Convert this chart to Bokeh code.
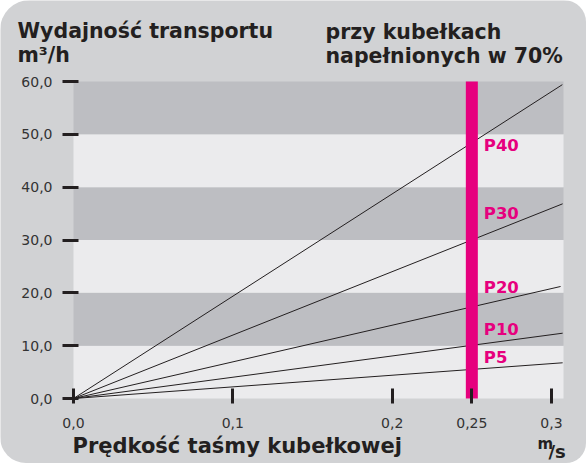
from bokeh.plotting import figure
from bokeh.models import Range1d, FixedTicker
from bokeh.core.properties import value
from bokeh.embed import file_html
from bokeh.resources import INLINE

# ---------------- data ----------------
series_names = ["P5", "P10", "P20", "P30", "P40"]
speed_start = [0.0, 0.0, 0.0, 0.0, 0.0]
speed_end = [0.307, 0.307, 0.3057, 0.307, 0.3068]
capacity_start = [0.0, 0.0, 0.0, 0.0, 0.0]
capacity_end = [6.76, 12.36, 21.2, 36.85, 59.4]

marked_speed = 0.25

y_ticks = [0, 10, 20, 30, 40, 50, 60]
y_tick_labels = ["0,0", "10,0", "20,0", "30,0", "40,0", "50,0", "60,0"]
x_ticks = [0.0, 0.1, 0.2, 0.25, 0.3]
x_tick_labels = ["0,0", "0,1", "0,2", "0,25", "0,3"]

band_bottoms = [0, 10, 20, 30, 40, 50]
band_tops = [10, 20, 30, 40, 50, 60]

title_left = ["Wydajność transportu", "m³/h"]
title_right = ["przy kubełkach", "napełnionych w 70%"]
x_title = "Prędkość taśmy kubełkowej"
unit_num = "m"
unit_den = "/s"

# ---------------- layout / style ----------------
W, H = 586, 463
PX0, PX03 = 73.0, 551.0       # page x of speed 0 and 0.3
PY0, PY60 = 398.0, 81.0       # page y of capacity 0 and 60
FRAME_RIGHT_PX = 563.0

sx = (PX03 - PX0) / 0.3
sy = (PY0 - PY60) / 60.0
XS, XE = -PX0 / sx, (W - PX0) / sx
YS, YE = -(H - PY0) / sy, PY0 / sy
BAND_RIGHT = (FRAME_RIGHT_PX - PX0) / sx

def dx(px):
    return (px - PX0) / sx

def dy(py):
    return (PY0 - py) / sy

label_speed = [0.2575] * 5
label_capacity = [7.7, 13.0, 21.07, 35.1, 47.9]

OUTER = "#d1d2d4"
DARK_BAND = "#bdbec2"
LIGHT_BAND = "#ebebed"
MAGENTA = "#e6007e"
INK = "#231f20"
FONT = "DejaVu Sans"

p = figure(width=W, height=H, output_backend="svg", toolbar_location=None,
           x_range=Range1d(XS, XE), y_range=Range1d(YS, YE), min_border=0)
p.styles = {"border-radius": "30px 22px 20px 26px", "overflow": "hidden"}
p.border_fill_color = OUTER
p.background_fill_color = OUTER
p.outline_line_color = None
p.grid.visible = False

# bands
band_colors = [LIGHT_BAND if i % 2 == 0 else DARK_BAND for i in range(len(band_bottoms))]
p.quad(left=0, right=BAND_RIGHT, bottom=band_bottoms, top=band_tops, fill_color=band_colors, line_color=None)

# capacity lines
p.multi_line(xs=[[a, b] for a, b in zip(speed_start, speed_end)],
             ys=[[a, b] for a, b in zip(capacity_start, capacity_end)],
             line_color=INK, line_width=1)

# marker bar at 0.25 m/s
p.segment(x0=[marked_speed], y0=[band_bottoms[0]], x1=[marked_speed], y1=[band_tops[-1]],
          line_color=MAGENTA, line_width=12, line_cap="butt")

# series labels
p.text(x=label_speed, y=label_capacity, text=series_names, text_color=MAGENTA, text_font=value(FONT),
       text_font_style="bold", text_font_size="16.5px", text_baseline="middle", text_align="left")

# axes, drawn at the origin
for ax in (p.yaxis[0], p.xaxis[0]):
    ax.fixed_location = 0
    ax.axis_line_color = None
    ax.minor_tick_line_color = None
    ax.major_tick_line_color = INK
    ax.major_tick_line_width = 3
    ax.major_label_text_font = FONT
    ax.major_label_text_font_size = "14px"
    ax.major_label_text_color = "#333333"

p.yaxis.ticker = FixedTicker(ticks=y_ticks)
p.yaxis.major_label_overrides = {t: l for t, l in zip(y_ticks, y_tick_labels)}
p.yaxis.major_tick_out = 11
p.yaxis.major_tick_in = 5
p.yaxis.major_label_standoff = 10

p.xaxis.ticker = FixedTicker(ticks=x_ticks)
p.xaxis.major_label_overrides = {t: l for t, l in zip(x_ticks, x_tick_labels)}
p.xaxis.major_tick_out = 5
p.xaxis.major_tick_in = 10
p.xaxis.major_label_standoff = 14

# titles (positions = vertical centre of the capitals, in page pixels)
def add_text(txts, pxs, pys, size):
    p.text(x=[dx(v) for v in pxs], y=[dy(v) for v in pys], text=txts,
           text_font=value(FONT), text_font_style="bold", text_font_size=size,
           text_color=INK, text_align="left", text_baseline="middle")

add_text(title_left + title_right, [17, 17, 325, 325], [30, 54, 31, 55], "20.5px")
add_text([x_title], [72], [445.5], "21px")
add_text([unit_num], [537], [443.5], "15px")
add_text([unit_den], [548], [450.5], "18px")

open("out.html", "w").write(file_html(p, INLINE))
